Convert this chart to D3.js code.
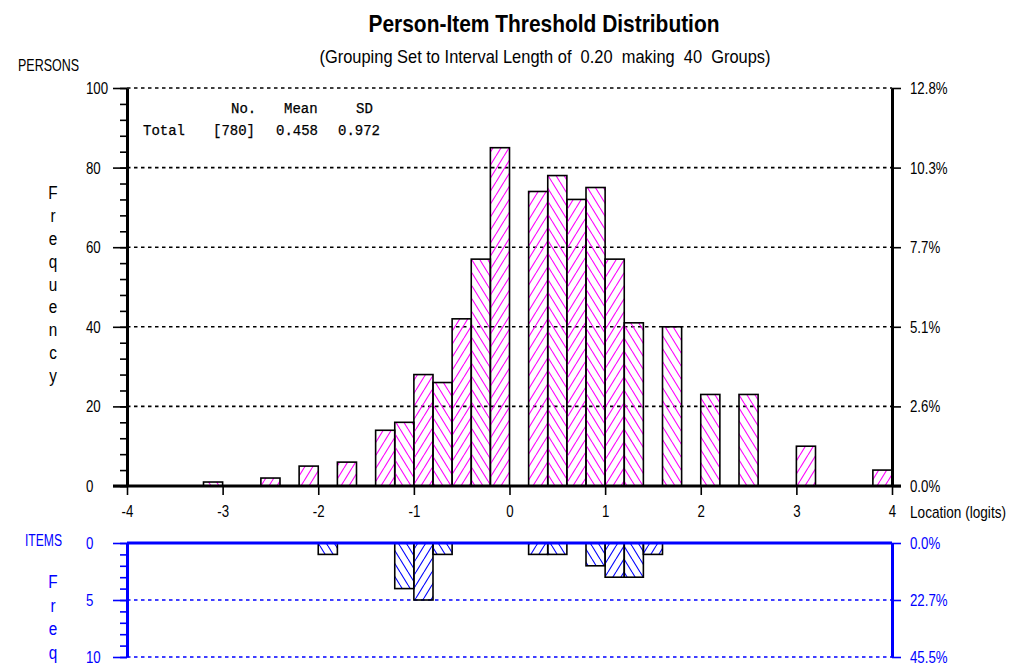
<!DOCTYPE html>
<html>
<head>
<meta charset="utf-8">
<script src="https://cdn.jsdelivr.net/npm/d3@7"></script>
<style>
  html, body { margin: 0; padding: 0; background: #fff; }
  svg { display: block; }
  text { font-family: "Liberation Sans Narrow", "Arial Narrow", "Liberation Sans", Arial, sans-serif; white-space: pre; }
  .mono { font-family: "Liberation Mono", "DejaVu Sans Mono", monospace; }
</style>
</head>
<body>
<svg id="chart" width="1021" height="665"></svg>
<script>
// Person measures grouped into 0.2-logit intervals (lower bound of each occupied interval)
const personBinStart = [-3.2, -2.6, -2.2, -1.8, -1.4, -1.2, -1.0, -0.8, -0.6, -0.4, -0.2,
                        0.2, 0.4, 0.6, 0.8, 1.0, 1.2, 1.6, 2.0, 2.4, 3.0, 3.8];
const personCounts   = [1, 2, 5, 6, 14, 16, 28, 26, 42, 57, 85,
                        74, 78, 72, 75, 57, 41, 40, 23, 23, 10, 4];
// Item thresholds grouped the same way
const itemBinStart = [-2.0, -1.2, -1.0, -0.8, 0.2, 0.4, 0.8, 1.0, 1.2, 1.4];
const itemCounts   = [1, 4, 5, 1, 1, 1, 2, 3, 3, 1];

const binWidth = 0.2;
const personTotal = 780;
const itemTotal = 22;

const xTicks = [-4, -3, -2, -1, 0, 1, 2, 3, 4];
const personTicks = [0, 20, 40, 60, 80, 100];
const personMinor = [0, 4, 8, 12, 16, 20, 24, 28, 32, 36, 40, 44, 48, 52, 56, 60, 64, 68, 72, 76, 80, 84, 88, 92, 96, 100];
const itemTicks = [0, 5, 10];
const itemMinor = [0, 1, 2, 3, 4, 5, 6, 7, 8, 9, 10];

const statHeader = ["No.", "Mean", "SD"];
const statRow = ["Total", "[780]", "0.458", "0.972"];

const svg = d3.select("#chart");

const left = 127, right = 892;
const x  = d3.scaleLinear().domain([-4, 4]).range([left, right]);
const yP = d3.scaleLinear().domain([0, 100]).range([486, 88]);
const yI = d3.scaleLinear().domain([0, 10]).range([543, 657]);

const MAGENTA = "#ff00ff", BLUE = "#0000ff";

// squeeze a text horizontally to imitate a condensed face
function narrow(sel, k = 0.78) {
  sel.each(function () {
    const L = this.getComputedTextLength();
    if (L > 0) {
      this.setAttribute("textLength", L * k);
      this.setAttribute("lengthAdjust", "spacingAndGlyphs");
    }
  });
}

// Hatch patterns: forward and backward diagonals, one set per panel colour
const defs = svg.append("defs");
function hatch(id, colour, forward) {
  const w = 8, h = 13;
  const p = defs.append("pattern").attr("id", id)
    .attr("patternUnits", "userSpaceOnUse").attr("width", w).attr("height", h);
  if (forward) {
    p.append("line").attr("x1", 0).attr("y1", h).attr("x2", w).attr("y2", 0);
    p.append("line").attr("x1", -w).attr("y1", h).attr("x2", 0).attr("y2", 0);
    p.append("line").attr("x1", w).attr("y1", h).attr("x2", 2 * w).attr("y2", 0);
  } else {
    p.append("line").attr("x1", 0).attr("y1", 0).attr("x2", w).attr("y2", h);
    p.append("line").attr("x1", -w).attr("y1", 0).attr("x2", 0).attr("y2", h);
    p.append("line").attr("x1", w).attr("y1", 0).attr("x2", 2 * w).attr("y2", h);
  }
  p.selectAll("line").attr("stroke", colour).attr("stroke-width", 1.1);
}
hatch("pf", MAGENTA, true);
hatch("pb", MAGENTA, false);
hatch("if", BLUE, true);
hatch("ib", BLUE, false);

// alternate hatch direction by interval index
const binIndex = s => Math.round((s + 4) / binWidth);

// ---------- Titles ----------
svg.append("text").attr("x", 544).attr("y", 32).attr("text-anchor", "middle")
  .attr("font-size", 24).attr("font-weight", "bold")
  .attr("textLength", 351).attr("lengthAdjust", "spacingAndGlyphs")
  .text("Person-Item Threshold Distribution");
svg.append("text").attr("x", 545).attr("y", 63).attr("text-anchor", "middle")
  .attr("font-size", 19).attr("textLength", 451).attr("lengthAdjust", "spacingAndGlyphs")
  .text("(Grouping Set to Interval Length of  0.20  making  40  Groups)");
svg.append("text").attr("x", 18).attr("y", 71).attr("font-size", 17)
  .attr("textLength", 61).attr("lengthAdjust", "spacingAndGlyphs").text("PERSONS");

// vertical "Frequency" caption
"Frequency".split("").forEach((c, i) => {
  svg.append("text").attr("x", 53).attr("y", 193 + i * 22.8).attr("dy", "0.35em")
    .attr("text-anchor", "middle").attr("font-size", 18).text(c).call(narrow, 0.85);
});

// ---------- Person panel gridlines ----------
svg.append("g").selectAll("line").data(personTicks.filter(d => d > 0)).join("line")
  .attr("x1", left).attr("x2", right)
  .attr("y1", d => yP(d)).attr("y2", d => yP(d))
  .attr("stroke", "#000").attr("stroke-width", 1.6).attr("stroke-dasharray", "3.5,3.5");

// stats block
const statFont = 14;
[231, 284, 356].forEach((px, i) => {
  svg.append("text").attr("class", "mono").attr("x", px).attr("y", 113)
    .attr("font-size", statFont).attr("stroke", "#000").attr("stroke-width", 0.25)
    .text(statHeader[i]);
});
[143, 213, 276, 338].forEach((px, i) => {
  svg.append("text").attr("class", "mono").attr("x", px).attr("y", 135)
    .attr("font-size", statFont).attr("stroke", "#000").attr("stroke-width", 0.25)
    .text(statRow[i]);
});

// ---------- Person bars ----------
const persons = personBinStart.map((s, i) => ({ s, n: personCounts[i] }));
svg.append("g").selectAll("rect").data(persons).join("rect")
  .attr("x", d => x(d.s)).attr("width", d => x(d.s + binWidth) - x(d.s))
  .attr("y", d => yP(d.n)).attr("height", d => yP(0) - yP(d.n))
  .attr("fill", d => binIndex(d.s) % 2 ? "url(#pf)" : "url(#pb)")
  .attr("stroke", "#000").attr("stroke-width", 1.6);

// ---------- Person axes ----------
const fmtPct = (v, total) => d3.format(".1f")(v / total * 100) + "%";
const plain = d => String(d);

const yMinor = svg.append("g").attr("transform", `translate(${left},0)`)
  .call(d3.axisLeft(yP).tickValues(personMinor).tickSize(7).tickFormat(""));
yMinor.select(".domain").remove();

const yAxis = svg.append("g").attr("transform", `translate(${left},0)`)
  .call(d3.axisLeft(yP).tickValues(personTicks).tickSize(14).tickSizeOuter(0).tickFormat(plain));
yAxis.selectAll(".tick text").attr("x", 86 - left).attr("text-anchor", "start")
  .attr("font-size", 17).attr("fill", "#000");

const yRight = svg.append("g").attr("transform", `translate(${right},0)`)
  .call(d3.axisRight(yP).tickValues(personTicks).tickSize(9).tickSizeOuter(0)
    .tickFormat(d => fmtPct(d, personTotal)));
yRight.selectAll(".tick text").attr("x", 18).attr("font-size", 17).attr("fill", "#000");

[yMinor, yAxis, yRight].forEach(g => {
  g.attr("font-family", null);
  g.selectAll(".tick line").attr("stroke", "#000").attr("stroke-width", 1.6);
  g.select(".domain").attr("stroke", "#000").attr("stroke-width", 3);
  g.selectAll(".tick text").call(narrow);
});

const xAxis = svg.append("g").attr("transform", `translate(0,${yP(0)})`)
  .call(d3.axisBottom(x).tickValues(xTicks).tickSize(9).tickSizeOuter(0).tickFormat(plain));
xAxis.select(".domain").remove();
xAxis.attr("font-family", null);
xAxis.selectAll(".tick line").attr("stroke", "#000").attr("stroke-width", 1.6);
xAxis.selectAll(".tick text").attr("y", 31).attr("dy", null).attr("font-size", 17)
  .attr("fill", "#000").call(narrow);

// baseline of person panel
svg.append("line").attr("x1", 113).attr("x2", right + 9)
  .attr("y1", yP(0)).attr("y2", yP(0)).attr("stroke", "#000").attr("stroke-width", 3);

svg.append("text").attr("x", 910).attr("y", 518).attr("font-size", 17)
  .text("Location (logits)").call(narrow, 0.8);

// ---------- Item panel ----------
svg.append("g").selectAll("line").data(itemTicks.filter(d => d > 0)).join("line")
  .attr("x1", left).attr("x2", right)
  .attr("y1", d => yI(d)).attr("y2", d => yI(d))
  .attr("stroke", BLUE).attr("stroke-width", 1.6).attr("stroke-dasharray", "3.5,3.5");

const items = itemBinStart.map((s, i) => ({ s, n: itemCounts[i] }));
svg.append("g").selectAll("rect").data(items).join("rect")
  .attr("x", d => x(d.s)).attr("width", d => x(d.s + binWidth) - x(d.s))
  .attr("y", yI(0)).attr("height", d => yI(d.n) - yI(0))
  .attr("fill", d => binIndex(d.s) % 2 ? "url(#if)" : "url(#ib)")
  .attr("stroke", "#000").attr("stroke-width", 1.6);

svg.append("line").attr("x1", left).attr("x2", right)
  .attr("y1", yI(0)).attr("y2", yI(0)).attr("stroke", BLUE).attr("stroke-width", 3);

const iMinor = svg.append("g").attr("transform", `translate(${left},0)`)
  .call(d3.axisLeft(yI).tickValues(itemMinor).tickSize(7).tickFormat(""));
iMinor.select(".domain").remove();

const iAxis = svg.append("g").attr("transform", `translate(${left},0)`)
  .call(d3.axisLeft(yI).tickValues(itemTicks).tickSize(14).tickSizeOuter(0).tickFormat(plain));
iAxis.selectAll(".tick text").attr("x", 86 - left).attr("text-anchor", "start")
  .attr("font-size", 17).attr("fill", BLUE);

const iRight = svg.append("g").attr("transform", `translate(${right},0)`)
  .call(d3.axisRight(yI).tickValues(itemTicks).tickSize(9).tickSizeOuter(0)
    .tickFormat(d => fmtPct(d, itemTotal)));
iRight.selectAll(".tick text").attr("x", 18).attr("font-size", 17).attr("fill", BLUE);

[iMinor, iAxis, iRight].forEach(g => {
  g.attr("font-family", null);
  g.selectAll(".tick line").attr("stroke", BLUE).attr("stroke-width", 1.6);
  g.select(".domain").attr("stroke", BLUE).attr("stroke-width", 3);
  g.selectAll(".tick text").call(narrow);
});

svg.append("text").attr("x", 25).attr("y", 546).attr("font-size", 16).attr("fill", BLUE)
  .attr("textLength", 37).attr("lengthAdjust", "spacingAndGlyphs").text("ITEMS");
"Freq".split("").forEach((c, i) => {
  svg.append("text").attr("x", 53).attr("y", 582 + i * 23.5).attr("dy", "0.35em")
    .attr("text-anchor", "middle").attr("font-size", 18).attr("fill", BLUE).text(c).call(narrow, 0.85);
});
</script>
</body>
</html>
